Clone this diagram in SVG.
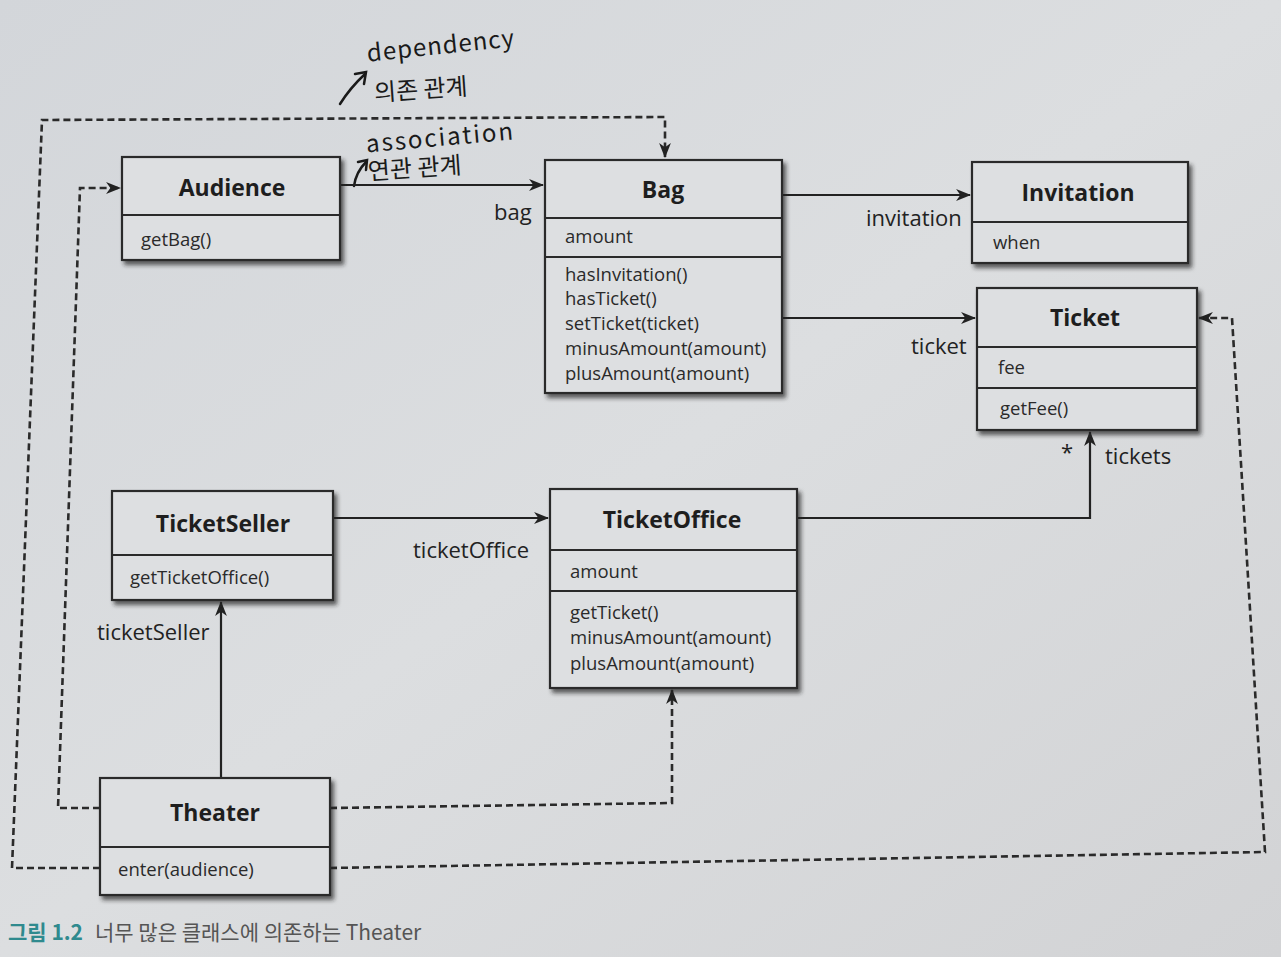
<svg xmlns="http://www.w3.org/2000/svg" width="1281" height="957" viewBox="0 0 1281 957">
<defs>
<linearGradient id="bg" x1="0" y1="0" x2="1" y2="1">
<stop offset="0" stop-color="#d3d6da"/>
<stop offset="0.5" stop-color="#dcdee0"/>
<stop offset="1" stop-color="#d2d3d5"/>
</linearGradient>
<filter id="sh" x="-10%" y="-10%" width="130%" height="130%">
<feDropShadow dx="3" dy="4" stdDeviation="2" flood-color="#222" flood-opacity="0.7"/>
</filter>
<marker id="ah" viewBox="0 0 14 11" refX="13" refY="5.5" markerWidth="15" markerHeight="12" markerUnits="userSpaceOnUse" orient="auto">
<path d="M0,0 L14,5.5 L0,11 L4,5.5 z" fill="#222"/>
</marker>
</defs>
<style>
.box{fill:#dddfe1;stroke:#2a2a2a;stroke-width:2.2;filter:url(#sh)}
.div{stroke:#2a2a2a;stroke-width:2}
.title{font-family:"Open Sans","Noto Sans",sans-serif;font-weight:bold;font-size:23px;fill:#1e1e1e;text-anchor:middle}
.mem{font-family:"Open Sans","Noto Sans",sans-serif;font-size:18.5px;fill:#2a2a2a}
.lbl{font-family:"Open Sans","Noto Sans",sans-serif;font-size:22px;fill:#222}
.solid{fill:none;stroke:#222;stroke-width:2.2;marker-end:url(#ah)}
.dash{fill:none;stroke:#2a2a2a;stroke-width:2.6;stroke-dasharray:7 4;marker-end:url(#ah)}
.hand{font-family:"Noto Sans CJK KR","DejaVu Sans",sans-serif;font-size:24px;fill:#1a1a1a}
.hl{fill:none;stroke:#1a1a1a;stroke-width:2.5;stroke-linecap:round}
</style>
<rect x="0" y="0" width="1281" height="957" fill="url(#bg)"/>

<g id="annotations">
<text class="hand" x="366" y="54" transform="rotate(-6 440 40)" font-size="28" letter-spacing="1">dependency</text>
<text class="hand" x="374" y="98" transform="rotate(-4 420 90)">의존 관계</text>
<path class="hl" d="M340,104 Q350,88 365,74"/>
<path class="hl" d="M355,74 L366,72 L364,84"/>
<text class="hand" x="366" y="146" transform="rotate(-5 440 140)" font-size="22" letter-spacing="2">association</text>
<text class="hand" x="368" y="177" transform="rotate(-4 410 170)" font-size="22">연관 관계</text>
<path class="hl" d="M354,186 Q356,172 366,162"/>
<path class="hl" d="M358,162 L367,160 L366,170"/>
</g>

<g id="connectors">
<path class="solid" d="M340,185 L543,185"/>
<path class="solid" d="M782,195 L970,195"/>
<path class="solid" d="M782,318 L975,318"/>
<path class="solid" d="M333,518 L548,518"/>
<path class="solid" d="M797,518 L1090,518 L1090,432"/>
<path class="solid" d="M221,778 L221,602"/>
<path class="dash" d="M100,808 L58,808 L80,188 L120,188"/>
<path class="dash" d="M100,868 L12,868 L42,120 L665,117 L665,157"/>
<path class="dash" d="M330,808 L672,803 L672,690"/>
<path class="dash" d="M330,868 L1265,852 L1232,318 L1199,318"/>
<text class="lbl" x="494" y="220">bag</text>
<text class="lbl" x="866" y="226">invitation</text>
<text class="lbl" x="911" y="354">ticket</text>
<text class="lbl" x="413" y="558">ticketOffice</text>
<text class="lbl" x="1061" y="460">*</text>
<text class="lbl" x="1105" y="464">tickets</text>
<text class="lbl" x="97" y="640">ticketSeller</text>
</g>

<g id="Audience">
<rect class="box" x="122" y="157" width="218" height="103"/>
<line class="div" x1="122" y1="215" x2="340" y2="215"/>
<text class="title" x="232" y="196">Audience</text>
<text class="mem" x="141" y="246">getBag()</text>
</g>

<g id="Bag">
<rect class="box" x="545" y="160" width="237" height="233"/>
<line class="div" x1="545" y1="218" x2="782" y2="218"/>
<line class="div" x1="545" y1="257" x2="782" y2="257"/>
<text class="title" x="663" y="198">Bag</text>
<text class="mem" x="565" y="243">amount</text>
<text class="mem" x="565" y="281">hasInvitation()</text>
<text class="mem" x="565" y="305">hasTicket()</text>
<text class="mem" x="565" y="330">setTicket(ticket)</text>
<text class="mem" x="565" y="355">minusAmount(amount)</text>
<text class="mem" x="565" y="380">plusAmount(amount)</text>
</g>

<g id="Invitation">
<rect class="box" x="972" y="162" width="216" height="101"/>
<line class="div" x1="972" y1="222" x2="1188" y2="222"/>
<text class="title" x="1078" y="201">Invitation</text>
<text class="mem" x="993" y="249">when</text>
</g>

<g id="Ticket">
<rect class="box" x="977" y="288" width="220" height="142"/>
<line class="div" x1="977" y1="347" x2="1197" y2="347"/>
<line class="div" x1="977" y1="388" x2="1197" y2="388"/>
<text class="title" x="1085" y="326">Ticket</text>
<text class="mem" x="998" y="374">fee</text>
<text class="mem" x="1000" y="415">getFee()</text>
</g>

<g id="TicketSeller">
<rect class="box" x="112" y="491" width="221" height="109"/>
<line class="div" x1="112" y1="555" x2="333" y2="555"/>
<text class="title" x="223" y="532">TicketSeller</text>
<text class="mem" x="130" y="584">getTicketOffice()</text>
</g>

<g id="TicketOffice">
<rect class="box" x="550" y="489" width="247" height="199"/>
<line class="div" x1="550" y1="550" x2="797" y2="550"/>
<line class="div" x1="550" y1="591" x2="797" y2="591"/>
<text class="title" x="672" y="528">TicketOffice</text>
<text class="mem" x="570" y="578">amount</text>
<text class="mem" x="570" y="619">getTicket()</text>
<text class="mem" x="570" y="644">minusAmount(amount)</text>
<text class="mem" x="570" y="670">plusAmount(amount)</text>
</g>

<g id="Theater">
<rect class="box" x="100" y="778" width="230" height="117"/>
<line class="div" x1="100" y1="847" x2="330" y2="847"/>
<text class="title" x="215" y="821">Theater</text>
<text class="mem" x="118" y="876">enter(audience)</text>
</g>

<g id="caption">
<text x="8" y="940" font-family="'Noto Sans CJK KR','Noto Sans',sans-serif" font-size="21" font-weight="bold" fill="#2f8a8e">그림 1.2</text>
<text x="95" y="940" font-family="'Noto Sans CJK KR','Noto Sans',sans-serif" font-size="21" fill="#555">너무 많은 클래스에 의존하는 Theater</text>
</g>
</svg>
